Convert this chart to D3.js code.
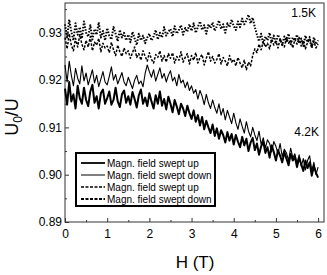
<!DOCTYPE html>
<html>
<head>
<meta charset="utf-8">
<script src="https://cdn.jsdelivr.net/npm/d3@7"></script>
<style>
  body { margin: 0; background: #fff; }
  text { font-family: "Liberation Sans", Arial, sans-serif; fill: #000; }
</style>
</head>
<body>
<script>
// field grid (T) shared by all four sweeps
var field = [0,.05,.1,.15,.2,.25,.3,.35,.4,.45,.5,.55,.6,.65,.7,.75,.8,.85,.9,.95,
  1,1.05,1.1,1.15,1.2,1.25,1.3,1.35,1.4,1.45,1.5,1.55,1.6,1.65,1.7,1.75,1.8,1.85,1.9,1.95,
  2,2.05,2.1,2.15,2.2,2.25,2.3,2.35,2.4,2.45,2.5,2.55,2.6,2.65,2.7,2.75,2.8,2.85,2.9,2.95,
  3,3.05,3.1,3.15,3.2,3.25,3.3,3.35,3.4,3.45,3.5,3.55,3.6,3.65,3.7,3.75,3.8,3.85,3.9,3.95,
  4,4.05,4.1,4.15,4.2,4.25,4.3,4.35,4.4,4.45,4.5,4.55,4.6,4.65,4.7,4.75,4.8,4.85,4.9,4.95,
  5,5.05,5.1,5.15,5.2,5.25,5.3,5.35,5.4,5.45,5.5,5.55,5.6,5.65,5.7,5.75,5.8,5.85,5.9,5.95,6];

// 4.2K, field swept up
var up42 = [.9182,.9148,.9196,.9155,.9170,.9140,.9188,.9162,.9150,.9184,
  .9158,.9145,.9176,.9190,.9152,.9166,.9140,.9172,.9180,.9150,
  .9162,.9176,.9148,.9158,.9184,.9155,.9143,.9170,.9178,.9152,
  .9166,.9148,.9175,.9160,.9142,.9168,.9180,.9150,.9163,.9145,
  .9172,.9155,.9140,.9168,.9150,.9176,.9146,.9160,.9138,.9165,
  .9150,.9132,.9158,.9144,.9128,.9150,.9140,.9124,.9146,.9130,
  .9118,.9136,.9112,.9126,.9104,.9122,.9096,.9114,.9100,.9088,
  .9106,.9082,.9098,.9076,.9094,.9084,.9068,.9090,.9072,.9086,
  .9064,.9084,.9070,.9058,.9080,.9062,.9076,.9050,.9068,.9078,
  .9052,.9066,.9042,.9060,.9070,.9046,.9058,.9036,.9062,.9048,
  .9030,.9052,.9040,.9026,.9048,.9034,.9020,.9044,.9030,.9038,
  .9016,.9036,.9022,.9008,.9030,.9014,.9026,.8998,.9018,.9004,.8994];

// 4.2K, field swept down
var down42 = [.9232,.9196,.9240,.9210,.9188,.9225,.9204,.9192,.9230,.9198,
  .9215,.9190,.9206,.9222,.9194,.9210,.9186,.9202,.9218,.9196,
  .9190,.9208,.9228,.9200,.9212,.9192,.9204,.9216,.9196,.9188,
  .9206,.9194,.9182,.9200,.9210,.9192,.9198,.9186,.9214,.9232,
  .9218,.9206,.9222,.9198,.9212,.9226,.9204,.9214,.9196,.9210,
  .9220,.9198,.9206,.9188,.9212,.9194,.9200,.9184,.9196,.9178,
  .9188,.9172,.9180,.9160,.9178,.9166,.9148,.9170,.9152,.9140,
  .9158,.9142,.9130,.9150,.9126,.9140,.9116,.9136,.9122,.9108,
  .9130,.9110,.9096,.9118,.9102,.9088,.9112,.9092,.9080,.9100,
  .9084,.9072,.9092,.9064,.9078,.9056,.9074,.9066,.9048,.9070,
  .9060,.9044,.9066,.9038,.9054,.9046,.9030,.9056,.9036,.9044,
  .9024,.9042,.9018,.9034,.9010,.9030,.9040,.9008,.9026,.9000,.9016];

// 1.5K, field swept up
var up15 = [.9318,.9290,.9328,.9302,.9284,.9320,.9296,.9312,.9288,.9324,
  .9300,.9292,.9316,.9286,.9308,.9296,.9322,.9290,.9304,.9284,
  .9310,.9294,.9286,.9312,.9298,.9282,.9306,.9290,.9300,.9284,
  .9296,.9280,.9302,.9288,.9274,.9298,.9284,.9294,.9278,.9290,
  .9298,.9284,.9292,.9306,.9286,.9300,.9290,.9312,.9294,.9302,
  .9308,.9292,.9314,.9298,.9306,.9316,.9296,.9310,.9302,.9318,
  .9304,.9320,.9300,.9312,.9324,.9306,.9316,.9298,.9318,.9310,
  .9322,.9304,.9314,.9326,.9308,.9318,.9300,.9320,.9312,.9328,
  .9314,.9306,.9324,.9312,.9330,.9318,.9326,.9338,.9320,.9332,
  .9312,.9296,.9282,.9298,.9276,.9292,.9284,.9300,.9280,.9294,
  .9278,.9296,.9286,.9274,.9292,.9282,.9298,.9276,.9290,.9284,
  .9296,.9278,.9288,.9272,.9294,.9280,.9286,.9268,.9290,.9276,.9284];

// 1.5K, field swept down
var down15 = [.9290,.9266,.9298,.9274,.9262,.9288,.9270,.9296,.9276,.9264,
  .9284,.9270,.9292,.9262,.9280,.9274,.9288,.9260,.9278,.9268,
  .9272,.9258,.9280,.9264,.9252,.9274,.9260,.9250,.9268,.9256,
  .9262,.9246,.9258,.9270,.9248,.9256,.9242,.9262,.9250,.9240,
  .9258,.9244,.9236,.9254,.9248,.9262,.9240,.9252,.9238,.9256,
  .9246,.9258,.9236,.9250,.9242,.9260,.9238,.9248,.9256,.9234,
  .9252,.9242,.9258,.9236,.9248,.9254,.9232,.9246,.9260,.9240,
  .9250,.9236,.9244,.9256,.9234,.9248,.9240,.9230,.9252,.9238,
  .9244,.9230,.9248,.9236,.9226,.9242,.9222,.9238,.9230,.9252,
  .9266,.9258,.9276,.9264,.9282,.9270,.9278,.9266,.9286,.9274,
  .9282,.9268,.9288,.9276,.9270,.9290,.9278,.9284,.9268,.9286,
  .9276,.9290,.9272,.9284,.9266,.9280,.9292,.9270,.9282,.9268,.9276];

var xTicks = [0, 1, 2, 3, 4, 5, 6];
var yTicks = [0.89, 0.90, 0.91, 0.92, 0.93];
var legendLabels = ["Magn. field swept up", "Magn. field swept down",
  "Magn. field swept up", "Magn. field swept down"];

var width = 327, height = 275;
// plot box edges (note: "top" is taken by window.top)
var plotL = 65, plotR = 324, plotT = 3, plotB = 222;

var svg = d3.select("body").append("svg")
    .attr("width", width)
    .attr("height", height);

var x = d3.scaleLinear().domain([0, 6.14]).range([plotL, plotR]);
var y = d3.scaleLinear().domain([0.89, 0.9363]).range([plotB, plotT]);

// minor ticks first, then the main axes on top
svg.append("g")
    .attr("transform", "translate(0," + plotB + ")")
    .call(d3.axisBottom(x).tickValues([0.5, 1.5, 2.5, 3.5, 4.5, 5.5]).tickSize(-2).tickFormat(""))
    .call(function(g) { g.select(".domain").remove(); });
svg.append("g")
    .attr("transform", "translate(" + plotL + ",0)")
    .call(d3.axisLeft(y).tickValues([0.895, 0.905, 0.915, 0.925, 0.935]).tickSize(-2).tickFormat(""))
    .call(function(g) { g.select(".domain").remove(); });

svg.append("g")
    .attr("transform", "translate(0," + plotB + ")")
    .call(d3.axisBottom(x).tickValues(xTicks).tickSizeInner(-4).tickSizeOuter(0).tickPadding(7)
      .tickFormat(d3.format("d")))
    .call(function(g) { g.select(".domain").remove(); })
    .selectAll("text").attr("font-size", 12).attr("font-family", "Liberation Sans, Arial, sans-serif");
svg.append("g")
    .attr("transform", "translate(" + plotL + ",0)")
    .call(d3.axisLeft(y).tickValues(yTicks).tickSizeInner(-4).tickSizeOuter(0).tickPadding(3)
      .tickFormat(d3.format(".2f")))
    .call(function(g) { g.select(".domain").remove(); })
    .selectAll("text").attr("font-size", 12).attr("font-family", "Liberation Sans, Arial, sans-serif");

svg.selectAll(".tick line").attr("stroke", "#333");

// frame
svg.append("rect")
    .attr("x", plotL).attr("y", plotT)
    .attr("width", plotR - plotL).attr("height", plotB - plotT)
    .attr("fill", "none").attr("stroke", "#333").attr("stroke-width", 1);

var series = [
  {values: up42, sw: 2, dash: null},
  {values: down42, sw: 1.1, dash: null},
  {values: up15, sw: 2, dash: "1.5,1.5"},
  {values: down15, sw: 1.5, dash: "2.5,1.5"}
];

var line = d3.line()
    .x(function(d) { return x(d[0]); })
    .y(function(d) { return y(d[1]); });

svg.selectAll("path.curve")
    .data(series)
    .enter()
    .append("path")
    .attr("class", "curve")
    .attr("d", function(s) { return line(d3.zip(field, s.values)); })
    .attr("fill", "none")
    .attr("stroke", "#000")
    .attr("stroke-width", function(s) { return s.sw; })
    .attr("stroke-dasharray", function(s) { return s.dash; })
    .attr("stroke-linejoin", "round");

svg.append("text").attr("x", 316).attr("y", 17).attr("text-anchor", "end")
    .attr("font-size", 12).text("1.5K");
svg.append("text").attr("x", 319).attr("y", 136).attr("text-anchor", "end")
    .attr("font-size", 12).text("4.2K");

// legend
var legend = svg.append("g");
legend.append("rect")
    .attr("x", 76).attr("y", 153).attr("width", 139).attr("height", 53)
    .attr("fill", "#fff").attr("stroke", "#000").attr("stroke-width", 2);

var rows = legend.selectAll("g.row")
    .data(legendLabels)
    .enter()
    .append("g")
    .attr("class", "row")
    .attr("transform", function(d, i) { return "translate(0," + (163 + i * 12) + ")"; });
rows.append("line")
    .attr("x1", 81).attr("x2", 105).attr("y1", 0).attr("y2", 0)
    .attr("stroke", "#000")
    .attr("stroke-width", function(d, i) { return [1.8, 1, 1.5, 1.8][i]; })
    .attr("stroke-dasharray", function(d, i) { return [null, null, "3,1.5", "3,1.5"][i]; });
rows.append("text")
    .attr("x", 107).attr("y", 0).attr("dy", "0.35em")
    .attr("font-size", 10)
    .text(function(d) { return d; });

// axis titles
svg.append("text")
    .attr("x", 195).attr("y", 268).attr("text-anchor", "middle")
    .attr("font-size", 17).text("H (T)");

var yl = svg.append("text")
    .attr("transform", "translate(18,117) rotate(-90)")
    .attr("text-anchor", "middle")
    .attr("font-size", 18);
yl.append("tspan").text("U");
yl.append("tspan").attr("font-size", 12).attr("dy", 4).text("0");
yl.append("tspan").attr("dy", -4).text("/U");
</script>
</body>
</html>
